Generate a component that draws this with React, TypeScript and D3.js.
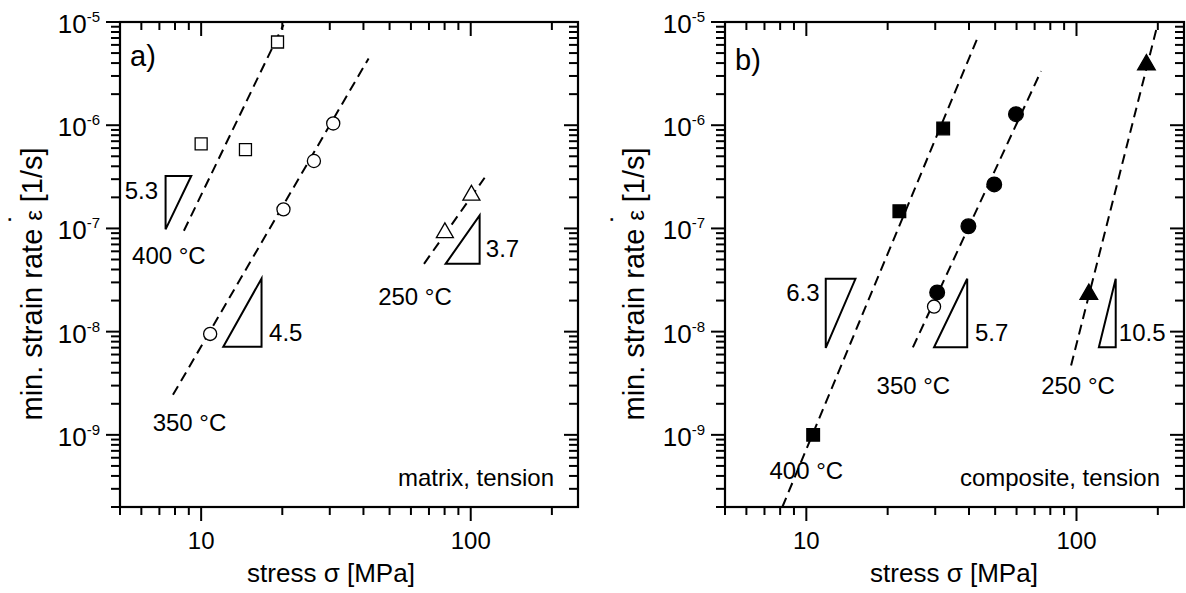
import React, { useEffect, useRef } from 'react';
import * as d3 from 'd3';

const W = 1186;
const H = 593;

// axis ranges and tick labels
const stressDomain = [5, 250];
const rateDomain = [2e-10, 1e-5];
const stressTickLabels = { 10: '10', 100: '100' };
const rateTickExponents = { '-9': '-9', '-8': '-8', '-7': '-7', '-6': '-6', '-5': '-5' };

// measured points, [stress MPa, min. strain rate 1/s]
const matrix400 = [[10.0, 6.6e-7], [14.6, 5.8e-7], [19.2, 6.4e-6]];
const matrix350 = [[10.8, 9.5e-9], [20.2, 1.53e-7], [26.2, 4.5e-7], [30.9, 1.04e-6]];
const matrix250 = [[80.2, 9.1e-8], [100.6, 2.1e-7]];

const composite400 = [[10.6, 1.0e-9], [22.1, 1.47e-7], [32.1, 9.3e-7]];
const composite350 = [[30.5, 2.4e-8], [39.8, 1.05e-7], [49.6, 2.67e-7], [59.7, 1.28e-6]];
const composite350open = [[29.7, 1.75e-8]];
const composite250 = [[111.1, 2.3e-8], [181.5, 3.85e-6]];

// power law fits (dashed), end points
const matrixFits = [
  [[8.63, 9.5e-8], [20.2, 9.4e-6]],
  [[7.86, 2.44e-9], [41.8, 4.44e-6]],
  [[67.1, 4.54e-8], [112.6, 3.1e-7]],
];
const compositeFits = [
  [[8.15, 2e-10], [43.2, 7.2e-6]],
  [[24.8, 7.05e-9], [73.9, 3.34e-6]],
  [[95.5, 4.7e-9], [198, 8.7e-6]],
];

// slope triangles: stress span, rate span, inverted = horizontal edge on top
const matrixSlopes = [
  { x1: 7.38, x2: 9.19, lo: 9.8e-8, hi: 3.22e-7, inverted: true },
  { x1: 12.08, x2: 16.75, lo: 7.15e-9, hi: 3.27e-8, inverted: false },
  { x1: 80.7, x2: 107.9, lo: 4.54e-8, hi: 1.34e-7, inverted: false },
];
const compositeSlopes = [
  { x1: 11.8, x2: 15.2, lo: 6.95e-9, hi: 3.25e-8, inverted: true },
  { x1: 29.7, x2: 39.4, lo: 7.05e-9, hi: 3.25e-8, inverted: false },
  { x1: 121, x2: 139.7, lo: 7.05e-9, hi: 3.25e-8, inverted: false },
];

// text labels, centred on [stress, rate]
const matrixLabels = [
  { text: '400 °C', at: [7.59, 5.47e-8] },
  { text: '350 °C', at: [9.05, 1.31e-9] },
  { text: '250 °C', at: [62.1, 2.19e-8] },
  { text: '5.3', at: [6.0, 2.34e-7] },
  { text: '4.5', at: [20.6, 9.84e-9] },
  { text: '3.7', at: [131.2, 6.4e-8] },
];
const compositeLabels = [
  { text: '400 °C', at: [10.0, 4.47e-10] },
  { text: '350 °C', at: [24.9, 2.99e-9] },
  { text: '250 °C', at: [101.3, 2.99e-9] },
  { text: '6.3', at: [9.71, 2.41e-8] },
  { text: '5.7', at: [48.5, 9.84e-9] },
  { text: '10.5', at: [175, 9.84e-9] },
];

const FONT = 'Liberation Sans, Arial, sans-serif';
const plotTop = 22;
const plotBottom = 507;

function drawPanel(svg, p) {
  const x = d3.scaleLog().domain(stressDomain).range([p.left, p.right]);
  const y = d3.scaleLog().domain(rateDomain).range([plotBottom, plotTop]);
  const g = svg.append('g').attr('font-family', FONT);

  const isMajor = v => Math.abs(Math.log10(v) - Math.round(Math.log10(v))) < 1e-6;
  const majorLen = 14;
  const minorLen = 8;

  // x ticks: bottom outward, top inward
  x.ticks().forEach(v => {
    const len = isMajor(v) ? majorLen : minorLen;
    const px = x(v);
    g.append('line').attr('x1', px).attr('x2', px).attr('y1', plotBottom).attr('y2', plotBottom + len)
      .attr('stroke', '#000').attr('stroke-width', 2);
    g.append('line').attr('x1', px).attr('x2', px).attr('y1', plotTop).attr('y2', plotTop + len)
      .attr('stroke', '#000').attr('stroke-width', 2);
    if (stressTickLabels[v]) {
      g.append('text').attr('x', px).attr('y', 549).attr('text-anchor', 'middle')
        .attr('font-size', 24).text(stressTickLabels[v]);
    }
  });

  // y ticks: left outward, right inward
  y.ticks().forEach(v => {
    const len = isMajor(v) ? majorLen : minorLen + 1;
    const py = y(v);
    g.append('line').attr('x1', p.left - len).attr('x2', p.left).attr('y1', py).attr('y2', py)
      .attr('stroke', '#000').attr('stroke-width', 2);
    g.append('line').attr('x1', p.right - len).attr('x2', p.right).attr('y1', py).attr('y2', py)
      .attr('stroke', '#000').attr('stroke-width', 2);
    const ex = String(Math.round(Math.log10(v)));
    if (isMajor(v) && rateTickExponents[ex]) {
      const t = g.append('text').attr('x', p.left - 20).attr('y', py + 11).attr('text-anchor', 'end');
      t.append('tspan').attr('font-size', 26).text('10');
      t.append('tspan').attr('font-size', 15).attr('dy', -11).text(rateTickExponents[ex]);
    }
  });

  // frame
  g.append('rect').attr('x', p.left).attr('y', plotTop)
    .attr('width', p.right - p.left).attr('height', plotBottom - plotTop)
    .attr('fill', 'none').attr('stroke', '#000').attr('stroke-width', 2.2);

  // fits
  const line = d3.line().x(d => x(d[0])).y(d => y(d[1]));
  p.fits.forEach(f => {
    g.append('path').attr('d', line(f)).attr('fill', 'none').attr('stroke', '#000')
      .attr('stroke-width', 2).attr('stroke-dasharray', '10,6');
  });

  // slope triangles
  p.slopes.forEach(s => {
    const pts = s.inverted
      ? [[s.x1, s.hi], [s.x2, s.hi], [s.x1, s.lo]]
      : [[s.x1, s.lo], [s.x2, s.lo], [s.x2, s.hi]];
    g.append('path').attr('d', line(pts) + 'Z').attr('fill', 'none')
      .attr('stroke', '#000').attr('stroke-width', 2);
  });

  // markers
  p.series.forEach(s => {
    const sym = d3.symbol().type(s.type).size(s.size);
    g.selectAll(null).data(s.data).enter().append('path')
      .attr('d', sym)
      .attr('transform', d => `translate(${x(d[0])},${y(d[1])})`)
      .attr('fill', s.filled ? '#000' : '#fff')
      .attr('stroke', '#000').attr('stroke-width', 1.3);
  });

  // labels
  p.labels.forEach(l => {
    g.append('text').attr('x', x(l.at[0])).attr('y', y(l.at[1]))
      .attr('text-anchor', 'middle').attr('dominant-baseline', 'central')
      .attr('font-size', 24).text(l.text);
  });

  g.append('text').attr('x', p.left + 10).attr('y', p.tagY).attr('font-size', 29).text(p.tag);
  g.append('text').attr('x', p.right - 24).attr('y', 486).attr('text-anchor', 'end')
    .attr('font-size', 24).text(p.caption);

  // axis titles
  const xt = g.append('text').attr('x', p.xTitleX).attr('y', 582).attr('text-anchor', 'middle').attr('font-size', 26);
  xt.append('tspan').text('stress ');
  xt.append('tspan').text('σ');
  xt.append('tspan').text(' [MPa]');

  const yt = g.append('text').attr('transform', `translate(${p.yTitleX},284) rotate(-90)`)
    .attr('text-anchor', 'middle').attr('font-size', 29);
  yt.append('tspan').text('min. strain rate ');
  yt.append('tspan').attr('font-size', 24).text('ε');
  // dot over epsilon (time derivative)
  yt.append('tspan').attr('font-size', 29).attr('dx', -13).attr('dy', -12).text('˙');
  yt.append('tspan').attr('dx', 3).attr('dy', 12).text(' [1/s]');
}

export default function App() {
  const ref = useRef(null);
  useEffect(() => {
    const svg = d3.select(ref.current);
    svg.selectAll('*').remove();
    drawPanel(svg, {
      left: 120, right: 578, tag: 'a)', tagY: 66, caption: 'matrix, tension',
      xTitleX: 331, yTitleX: 42,
      fits: matrixFits, slopes: matrixSlopes, labels: matrixLabels,
      series: [
        { data: matrix400, type: d3.symbolSquare, size: 144, filled: false },
        { data: matrix350, type: d3.symbolCircle, size: 135, filled: false },
        { data: matrix250, type: d3.symbolTriangle, size: 125, filled: false },
      ],
    });
    drawPanel(svg, {
      left: 725, right: 1184, tag: 'b)', tagY: 70, caption: 'composite, tension',
      xTitleX: 954, yTitleX: 644,
      fits: compositeFits, slopes: compositeSlopes, labels: compositeLabels,
      series: [
        { data: composite400, type: d3.symbolSquare, size: 160, filled: true },
        { data: composite350, type: d3.symbolCircle, size: 170, filled: true },
        { data: composite250, type: d3.symbolTriangle, size: 135, filled: true },
        { data: composite350open, type: d3.symbolCircle, size: 135, filled: false },
      ],
    });
  }, []);
  return (
    <svg ref={ref} width={W} height={H}
      style={{ position: 'absolute', left: 0, top: 0, background: '#fff' }} />
  );
}
